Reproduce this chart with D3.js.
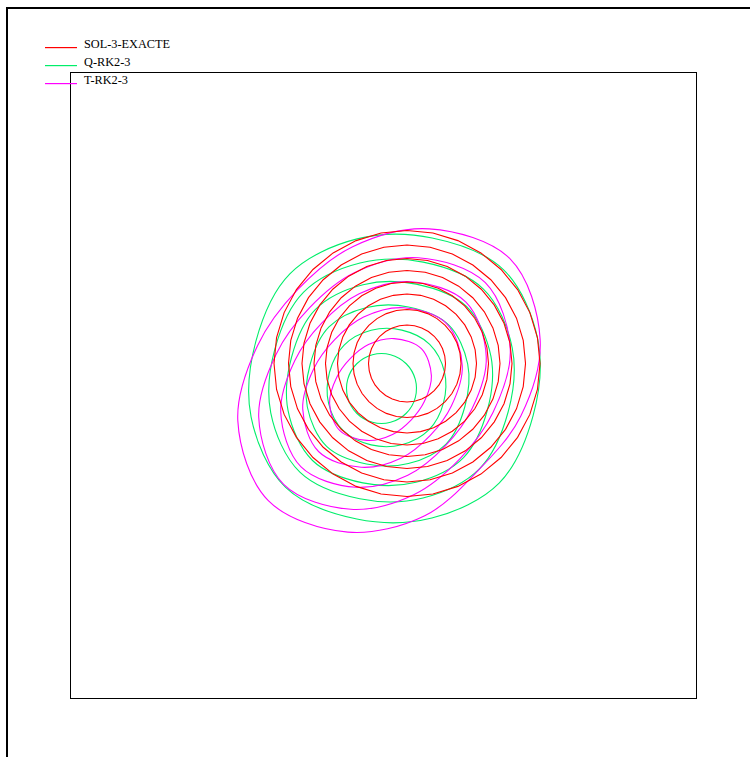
<!DOCTYPE html>
<html><head><meta charset="utf-8">
<script src="https://cdn.jsdelivr.net/npm/d3@7/dist/d3.min.js"></script>
<style>html,body{margin:0;padding:0;background:#fff;}</style>
</head><body>
<svg id="c" width="750" height="757"></svg>
<script>
// ---- data (data units, plot domain [-1,1] x [-1,1]) ----
const seriesNames = ["SOL-3-EXACTE", "Q-RK2-3", "T-RK2-3"];
const seriesColors = ["#ff0000", "#00ee6a", "#ff00ff"];
// polar sampling angles (degrees, counter-clockwise from +x) for distorted contours
const angles = [15, 45, 75, 105, 135, 165, 195, 225, 255, 285, 315, 345];
// exact solution: concentric circles
const exactCenter = [0.0751, 0.0703];
const exactRadii = [0.123, 0.1725, 0.222, 0.2604, 0.2971, 0.3355, 0.3786, 0.4249];
// Q-RK2-3 contours: centers and radii at the sampling angles
const qCenters = [[-0.0064, -0.0096], [0.0096, -0.0064], [0.0128, 0], [0.0192, 0.0064], [0.0256, 0.016], [0.0351, 0.0224]];
const qRadii = [
  [0.1118,0.1118,0.1118,0.1118,0.1118,0.1118,0.1118,0.1118,0.1118,0.1118,0.1118,0.1118],
  [0.1917,0.1952,0.1898,0.1891,0.1914,0.1885,0.1917,0.1952,0.1898,0.1891,0.1914,0.1885],
  [0.2652,0.2751,0.2597,0.2581,0.2645,0.2562,0.2652,0.2751,0.2597,0.2581,0.2645,0.2562],
  [0.3355,0.3479,0.3288,0.3265,0.3345,0.3240,0.3355,0.3479,0.3288,0.3265,0.3345,0.3240],
  [0.3994,0.4141,0.3914,0.3885,0.3981,0.3859,0.3994,0.4141,0.3914,0.3885,0.3981,0.3859],
  [0.4744,0.4920,0.4649,0.4617,0.4728,0.4585,0.4744,0.4920,0.4649,0.4617,0.4728,0.4585]
];
// T-RK2-3 contours
const tCenters = [[-0.0096, -0.0128], [-0.0032, -0.0064], [0, 0.0032], [0.0032, 0.0064], [0.016, 0.016]];
const tRadii = [
  [0.1684,0.1847,0.1684,0.1486,0.1380,0.1454,0.1684,0.1847,0.1684,0.1486,0.1380,0.1454],
  [0.2639,0.2891,0.2639,0.2329,0.2160,0.2278,0.2639,0.2891,0.2639,0.2329,0.2160,0.2278],
  [0.3399,0.3725,0.3399,0.3000,0.2783,0.2936,0.3399,0.3725,0.3399,0.3000,0.2783,0.2936],
  [0.4160,0.4556,0.4160,0.3668,0.3403,0.3588,0.4160,0.4556,0.4160,0.3668,0.3403,0.3588],
  [0.5016,0.5495,0.5016,0.4425,0.4105,0.4329,0.4984,0.5431,0.5016,0.4473,0.4058,0.4377]
];
const xDomain = [-1, 1], yDomain = [-1, 1];

// ---- drawing ----
const svg = d3.select("#c");
const L = 70.5, R = 696.5, T = 72.5, B = 698.5;
const x = d3.scaleLinear().domain(xDomain).range([L, R]);
const y = d3.scaleLinear().domain(yDomain).range([B, T]);

// outer frame
svg.append("rect").attr("x", 7).attr("y", 8).attr("width", 800).attr("height", 800)
  .attr("fill", "none").attr("stroke", "#000").attr("stroke-width", 2);
// plot box
svg.append("rect").attr("x", L).attr("y", T).attr("width", R - L).attr("height", B - T)
  .attr("fill", "none").attr("stroke", "#000").attr("stroke-width", 1);

const rad = Math.PI / 180;
function ringPoints(c, radii, angs) {
  return angs.map((a, i) => [x(c[0] + radii[i] * Math.cos(a * rad)), y(c[1] + radii[i] * Math.sin(a * rad))]);
}
const smooth = d3.line().curve(d3.curveCatmullRomClosed.alpha(0.5));
const poly = d3.line().curve(d3.curveLinearClosed);
const exactAngles = d3.range(0, 360, 11.25);

const g = svg.append("g").attr("fill", "none").attr("stroke-width", 1.1);
qRadii.forEach((r, i) => g.append("path").attr("d", smooth(ringPoints(qCenters[i], r, angles))).attr("stroke", seriesColors[1]));
tRadii.forEach((r, i) => g.append("path").attr("d", smooth(ringPoints(tCenters[i], r, angles))).attr("stroke", seriesColors[2]));
exactRadii.forEach(r => g.append("path").attr("d", poly(ringPoints(exactCenter, exactAngles.map(() => r), exactAngles))).attr("stroke", seriesColors[0]));

// legend
const leg = svg.append("g");
seriesNames.forEach((n, i) => {
  const yy = 47 + i * 18;
  leg.append("rect").attr("x", 45).attr("y", yy).attr("width", 32).attr("height", 1.2)
    .attr("fill", seriesColors[i]);
  leg.append("text").attr("x", 84).attr("y", yy + 1.3).text(n)
    .attr("font-family", "Liberation Serif, Times New Roman, serif").attr("font-size", 12.3).attr("fill", "#000");
});
</script>
</body></html>
